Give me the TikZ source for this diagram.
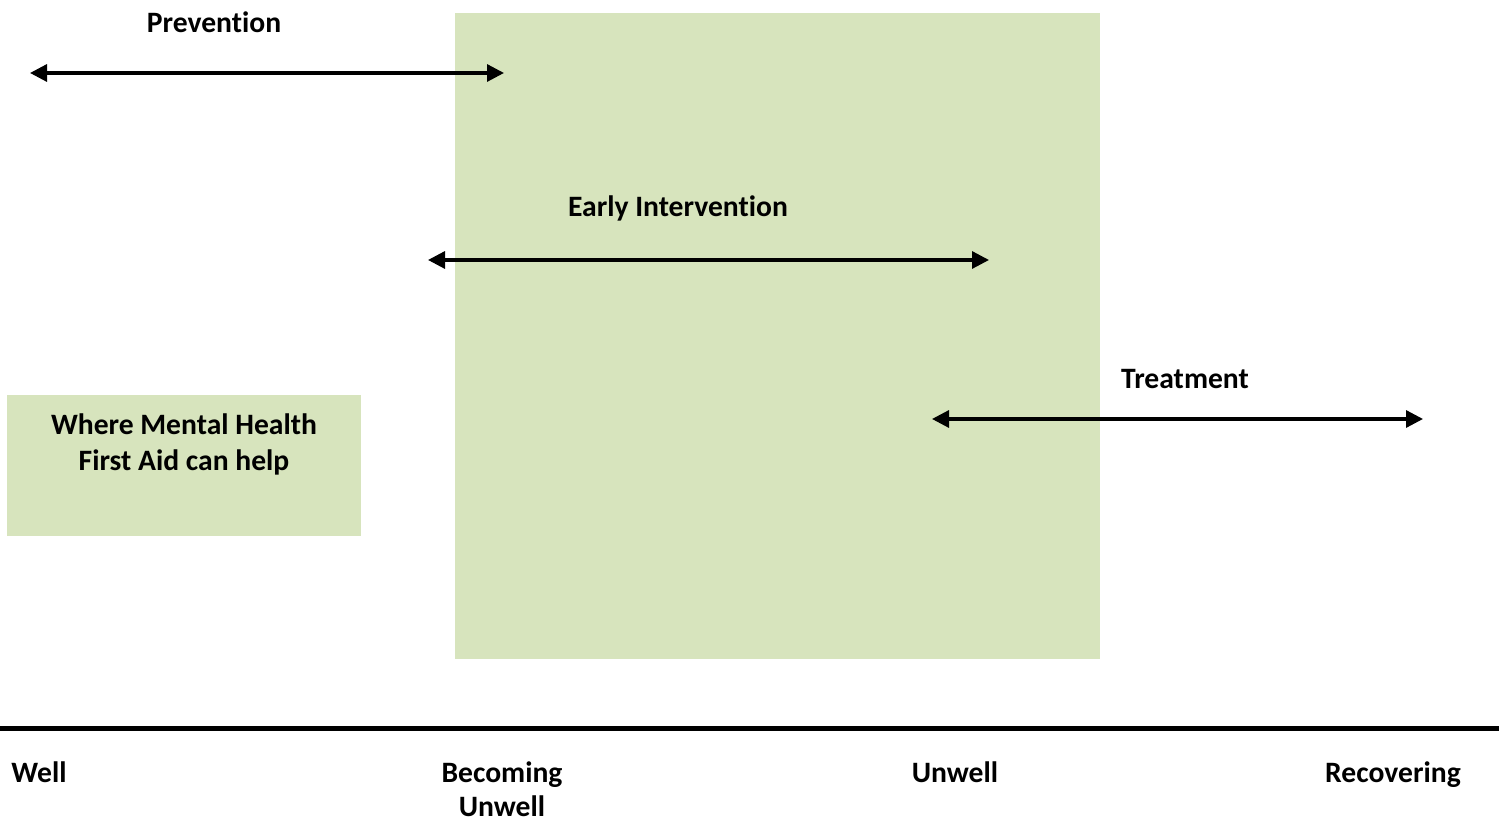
\documentclass[tikz,border=0pt]{standalone}
\usepackage{fontspec}
\setmainfont{Carlito}[Ligatures=NoCommon]
\usepackage{tikz}
\usetikzlibrary{arrows.meta, positioning}
\usepackage{xcolor}
\definecolor{mhfagreen}{RGB}{215, 228, 189}

\tikzset{
  stagelabel/.style={anchor=base, inner sep=0pt, font=\bfseries\fontsize{14.8}{17}\selectfont},
  rangearrow/.style={line width=1.6pt, {Triangle[length=8.5pt,width=8.5pt]}-{Triangle[length=8.5pt,width=8.5pt]}},
}

\begin{document}
\begin{tikzpicture}[x=0.5pt, y=-0.5pt]
    \useasboundingbox (0,0) rectangle (1499,822);

    % shaded areas
    \fill[mhfagreen] (455,13) rectangle (1100,659);
    \node[fill=mhfagreen, minimum width=177pt, minimum height=70.5pt, inner sep=0pt] (help) at (184,465.5) {};
    \node[stagelabel, align=center, font=\bfseries\fontsize{14.8}{18}\selectfont] (helptext) at (184,471) {Where Mental Health\\First Aid can help};

    % ranges
    \coordinate (prevL) at (30,73);
    \coordinate (prevR) at (504,73);
    \node[stagelabel] (prevention) at (214,33) {Prevention};
    \draw[rangearrow] (prevL) -- (prevR);

    \coordinate (earlyL) at (428,260);
    \coordinate (earlyR) at (989,260);
    \node[stagelabel] (early) at (678,217) {Early Intervention};
    \draw[rangearrow] (earlyL) -- (earlyR);

    \coordinate (treatL) at (932,419);
    \coordinate (treatR) at (1423,419);
    \node[stagelabel] (treatment) at (1185,389) {Treatment};
    \draw[rangearrow] (treatL) -- (treatR);

    % axis
    \coordinate (axisL) at (0,729);
    \coordinate (axisR) at (1499,729);
    \draw[line width=2.5pt] (axisL) -- (axisR);

    \node[stagelabel, anchor=base west] (well) at (11,783) {Well};
    \node[stagelabel, align=center, font=\bfseries\fontsize{14.8}{17}\selectfont] (becoming) at (502,816) {Becoming\\Unwell};
    \node[stagelabel] (unwell) at (955,783) {Unwell};
    \node[stagelabel] (recovering) at (1393,783) {Recovering};
\end{tikzpicture}
\end{document}
